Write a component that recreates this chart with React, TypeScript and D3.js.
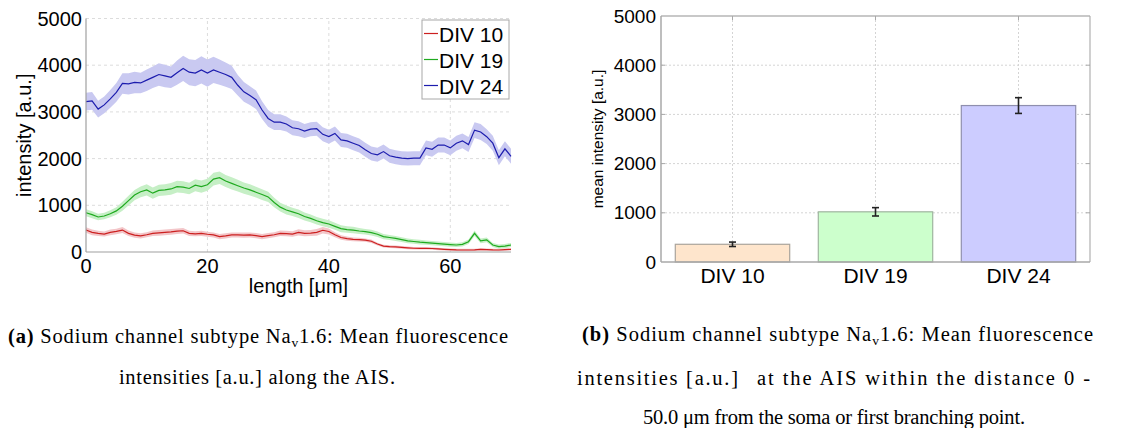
import React from 'react';
import * as d3 from 'd3';

// ---------- data: left panel (mean fluorescence along AIS) ----------
const lengthUm = [0,1,2,3,4,5,6,7,8,9,10,11,12,13,14,15,16,17,18,19,20,21,22,23,24,25,26,27,28,29,30,31,32,33,34,35,36,37,38,39,40,41,42,43,44,45,46,47,48,49,50,51,52,53,54,55,56,57,58,59,60,61,62,63,64,65,66,67,68,69,70];

const div10Mean = [470,420,400,385,420,440,470,400,360,345,370,400,410,420,430,445,455,400,390,400,380,365,330,345,365,365,360,365,350,330,350,370,400,395,385,420,400,405,420,465,440,370,310,285,270,265,255,230,170,125,115,110,100,90,80,78,78,75,65,57,50,45,43,43,45,55,50,45,43,50,57];
const div10Sd = [60,60,55,55,60,60,65,60,55,55,55,60,60,60,60,60,60,55,55,55,55,55,55,55,55,55,55,55,55,55,55,55,60,60,60,65,65,65,70,70,65,55,50,45,40,40,35,35,30,30,30,30,30,30,25,25,25,25,25,25,25,25,25,25,25,25,25,25,25,25,25];

const div19Mean = [840,800,750,770,820,880,980,1100,1220,1290,1330,1260,1320,1330,1350,1400,1390,1360,1430,1400,1440,1560,1590,1520,1470,1420,1370,1330,1280,1230,1180,1060,960,900,860,820,760,720,670,630,600,550,500,480,470,450,435,415,380,330,310,290,265,240,225,210,200,190,180,170,160,150,165,220,400,240,260,150,115,125,150];
const div19Sd = [75,75,70,70,75,80,95,105,110,115,120,120,120,120,125,125,125,125,130,130,130,135,135,130,130,125,120,120,115,115,110,100,95,95,90,90,85,85,80,80,80,75,75,70,70,65,60,60,60,55,55,55,50,50,50,50,45,45,45,45,45,45,45,50,60,50,50,45,45,45,45];

const div24Mean = [3220,3235,3060,3150,3280,3420,3610,3600,3630,3620,3680,3740,3800,3770,3740,3840,3930,3850,3830,3900,3830,3900,3850,3800,3740,3570,3430,3350,3260,3040,2860,2780,2780,2740,2660,2640,2590,2630,2640,2520,2470,2540,2400,2380,2330,2280,2190,2110,2080,2150,2060,2030,2010,2000,2010,2010,2230,2200,2290,2290,2230,2330,2380,2300,2610,2570,2470,2330,2020,2210,2050];
const div24Sd = [190,190,180,180,190,200,220,230,230,220,230,230,240,240,230,260,270,280,280,290,290,280,270,260,250,220,210,200,200,190,180,170,170,160,160,160,150,150,150,150,150,150,150,150,150,150,150,150,150,150,150,150,150,150,150,150,160,160,160,160,160,160,160,160,170,170,160,160,160,160,160];

const lineSeries = [
  { name: 'DIV 10', mean: div10Mean, sd: div10Sd, line: '#cc2020', band: '#f3c6c9' },
  { name: 'DIV 19', mean: div19Mean, sd: div19Sd, line: '#1faa1f', band: '#c6efc6' },
  { name: 'DIV 24', mean: div24Mean, sd: div24Sd, line: '#1c1cae', band: '#c9c9f1' },
];

const leftYTicks = [0, 1000, 2000, 3000, 4000, 5000];
const leftXTicks = [0, 20, 40, 60];

// ---------- data: right panel (mean intensity 0-50 µm) ----------
const barCats = ['DIV 10', 'DIV 19', 'DIV 24'];
const barMeans = [360, 1020, 3180];
const barErr = [45, 85, 160];
const barFill = ['#fee5cc', '#ccffcc', '#ccccff'];
const barStroke = ['#aaa49c', '#9fb59f', '#8f8fae'];
const rightYTicks = [0, 1000, 2000, 3000, 4000, 5000];

const SANS = "'Liberation Sans', Arial, sans-serif";
const SERIF = "'Liberation Serif', 'Times New Roman', serif";

export default function App() {
  const xL = d3.scaleLinear().domain([0, 70]).range([86, 511]);
  const yL = d3.scaleLinear().domain([0, 5000]).range([252, 18.5]);
  const xR = d3.scaleBand<string>().domain(barCats).range([661, 1090]).paddingInner(0.2).paddingOuter(0.1);
  const yR = d3.scaleLinear().domain([0, 5000]).range([262, 16]);

  const bandGen = (s: typeof lineSeries[number]) =>
    d3.area<number>()
      .x((_, i) => xL(lengthUm[i]))
      .y0((d, i) => yL(Math.max(0, d - s.sd[i])))
      .y1((d, i) => yL(d + s.sd[i]))(s.mean) || '';
  const lineGen = (s: typeof lineSeries[number]) =>
    d3.line<number>()
      .x((_, i) => xL(lengthUm[i]))
      .y((d) => yL(d))(s.mean) || '';

  const [l0, l1] = xL.range();
  const [b0, t0] = yL.range();
  const [r0, r1] = xR.range();
  const [rb, rt] = yR.range();

  return (
    <svg width={1145} height={428} style={{ position: 'absolute', left: 0, top: 0, background: '#fff' }}>
      {/* ---------- LEFT PANEL ---------- */}
      <g>
        {leftYTicks.filter((t) => t > 0).map((t) => (
          <line key={'gy' + t} x1={l0} x2={l1} y1={yL(t)} y2={yL(t)} stroke="#dcdcdc" strokeDasharray="3,3" />
        ))}
        {leftXTicks.filter((t) => t > 0).map((t) => (
          <line key={'gx' + t} x1={xL(t)} x2={xL(t)} y1={b0} y2={t0} stroke="#dcdcdc" strokeDasharray="3,3" />
        ))}
        {lineSeries.slice().reverse().map((s) => (
          <path key={'b' + s.name} d={bandGen(s)} fill={s.band} stroke="none" />
        ))}
        {lineSeries.slice().reverse().map((s) => (
          <path key={'l' + s.name} d={lineGen(s)} fill="none" stroke={s.line} strokeWidth={1.2} />
        ))}
        <line x1={l0} x2={l0} y1={b0} y2={t0} stroke="#a0a0a0" strokeWidth={1.2} />
        <line x1={l0} x2={l1} y1={b0} y2={b0} stroke="#a0a0a0" strokeWidth={1.2} />
        {leftYTicks.map((t) => (
          <text key={'ty' + t} x={l0 - 4} y={yL(t) + 7} textAnchor="end" fontFamily={SANS} fontSize={20} fill="#000">{t}</text>
        ))}
        {leftXTicks.map((t) => (
          <text key={'tx' + t} x={xL(t)} y={273} textAnchor="middle" fontFamily={SANS} fontSize={20} fill="#000">{t}</text>
        ))}
        <text x={(l0 + l1) / 2} y={293} textAnchor="middle" fontFamily={SANS} fontSize={20} fill="#000">length [μm]</text>
        <text transform={`translate(30.5,${(b0 + t0) / 2}) rotate(-90)`} textAnchor="middle" fontFamily={SANS} fontSize={20} fill="#000">intensity [a.u.]</text>
        {/* legend */}
        <rect x={422} y={20} width={87} height={79} fill="#fff" stroke="#a8a8a8" strokeWidth={1} />
        {lineSeries.map((s, i) => (
          <g key={'lg' + s.name}>
            <line x1={424} x2={438} y1={33.5 + i * 26} y2={33.5 + i * 26} stroke={s.line} strokeWidth={1.2} />
            <text x={439} y={41.5 + i * 26} fontFamily={SANS} fontSize={21} fill="#000">{s.name}</text>
          </g>
        ))}
      </g>

      {/* ---------- RIGHT PANEL ---------- */}
      <g>
        {rightYTicks.filter((t) => t > 0 && t < 5000).map((t) => (
          <line key={'rgy' + t} x1={r0} x2={r1} y1={yR(t)} y2={yR(t)} stroke="#d4d4d4" strokeDasharray="2,2" />
        ))}
        {barCats.map((c) => {
          const cx = (xR(c) as number) + xR.bandwidth() / 2;
          return <line key={'rgx' + c} x1={cx} x2={cx} y1={rb} y2={rt} stroke="#d4d4d4" strokeDasharray="2,2" />;
        })}
        {barCats.map((c, i) => (
          <rect key={'bar' + c} x={xR(c)} y={yR(barMeans[i])} width={xR.bandwidth()} height={yR(0) - yR(barMeans[i])}
            fill={barFill[i]} stroke={barStroke[i]} strokeWidth={1.2} />
        ))}
        {barCats.map((c, i) => {
          const cx = (xR(c) as number) + xR.bandwidth() / 2;
          const ya = yR(barMeans[i] + barErr[i]);
          const yb = yR(barMeans[i] - barErr[i]);
          return (
            <g key={'err' + c} stroke="#222" strokeWidth={1.6}>
              <line x1={cx} x2={cx} y1={ya} y2={yb} />
              <line x1={cx - 3.5} x2={cx + 3.5} y1={ya} y2={ya} />
              <line x1={cx - 3.5} x2={cx + 3.5} y1={yb} y2={yb} />
            </g>
          );
        })}
        {/* frame */}
        <line x1={r0} x2={r1} y1={rt} y2={rt} stroke="#c8c8c8" strokeWidth={2} />
        <line x1={r1} x2={r1} y1={rb} y2={rt} stroke="#b0b0b0" strokeWidth={1.2} />
        <line x1={r0} x2={r0} y1={rb} y2={rt} stroke="#a8a8a8" strokeWidth={1.5} />
        <line x1={r0} x2={r1} y1={rb} y2={rb} stroke="#a8a8a8" strokeWidth={1.5} />
        {rightYTicks.filter((t) => t > 0 && t < 5000).map((t) => (
          <g key={'rtk' + t} stroke="#a8a8a8">
            <line x1={r1 - 4} x2={r1} y1={yR(t)} y2={yR(t)} />
            <line x1={r0} x2={r0 + 4} y1={yR(t)} y2={yR(t)} />
          </g>
        ))}
        {barCats.map((c) => {
          const cx = (xR(c) as number) + xR.bandwidth() / 2;
          return (
            <g key={'rtx' + c} stroke="#a8a8a8">
              <line x1={cx} x2={cx} y1={rt} y2={rt + 4} />
            </g>
          );
        })}
        {rightYTicks.map((t) => (
          <text key={'rty' + t} x={r0 - 5} y={yR(t) + 6.5} textAnchor="end" fontFamily={SANS} fontSize={19} fill="#000">{t}</text>
        ))}
        {barCats.map((c) => (
          <text key={'rtl' + c} x={(xR(c) as number) + xR.bandwidth() / 2} y={283} textAnchor="middle" fontFamily={SANS} fontSize={21} fill="#000">{c}</text>
        ))}
        <text transform={`translate(603,${(rb + rt) / 2}) rotate(-90)`} textAnchor="middle" fontFamily={SANS} fontSize={15.5} fill="#000">mean intensity [a.u.]</text>
      </g>

      {/* ---------- CAPTIONS ---------- */}
      <g fontFamily={SERIF} fontSize={20.5} fill="#000">
        <text x={8} y={343} textLength={500} lengthAdjust="spacing">
          <tspan fontWeight="bold">(a)</tspan> Sodium channel subtype Na<tspan dy={4} fontSize={13.5}>v</tspan><tspan dy={-4}>1.6: Mean fluorescence</tspan>
        </text>
        <text x={119} y={384} textLength={276} lengthAdjust="spacing">intensities [a.u.] along the AIS.</text>

        <text x={582} y={341} textLength={511} lengthAdjust="spacing">
          <tspan fontWeight="bold">(b)</tspan> Sodium channel subtype Na<tspan dy={4} fontSize={13.5}>v</tspan><tspan dy={-4}>1.6: Mean fluorescence</tspan>
        </text>
        <text x={577} y={385} textLength={161} lengthAdjust="spacing">intensities [a.u.]</text>
        <text x={757} y={385} textLength={333} lengthAdjust="spacing">at the AIS within the distance 0 -</text>
        <text x={643} y={424} textLength={382} lengthAdjust="spacing">50.0 μm from the soma or first branching point.</text>
      </g>
    </svg>
  );
}
